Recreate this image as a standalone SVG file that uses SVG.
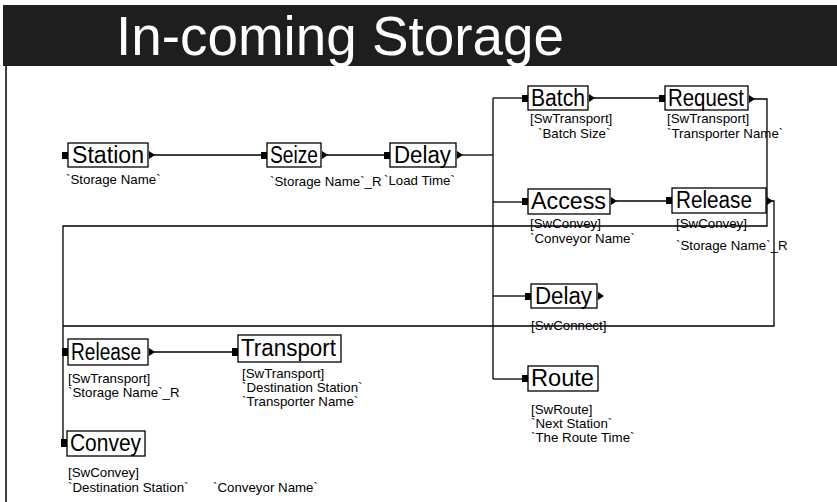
<svg xmlns="http://www.w3.org/2000/svg" width="837" height="502" viewBox="0 0 837 502">
<style>
.box{fill:#fff;stroke:#000;stroke-width:1.3}
.nt{font-family:"Liberation Sans",Arial,sans-serif;font-size:23px;fill:#000}
.lb{font-family:"Liberation Sans",Arial,sans-serif;font-size:13.3px;fill:#000}
.cn{fill:none;stroke:#000;stroke-width:1.3}
.in{fill:#000}
.out{fill:#000}
</style>
<rect width="837" height="502" fill="#fff"/>
<g id="title">
<rect x="3" y="5" width="834" height="61" fill="#1e1e1e"/>
<text x="116" y="55" font-family="'Liberation Sans',Arial,sans-serif" font-size="55" fill="#fff" textLength="448" lengthAdjust="spacingAndGlyphs">In-coming Storage</text>
<line x1="6" y1="66" x2="6" y2="502" stroke="#000" stroke-width="1.5"/>
</g>
<g id="connectors" class="cn">
<path d="M154 155H261"/>
<path d="M327 155H384"/>
<path d="M462 155H493"/>
<path d="M493 98V379"/>
<path d="M493 98H522"/>
<path d="M594 98H659"/>
<path d="M493 202H522"/>
<path d="M616 201H666"/>
<path d="M493 296H525"/>
<path d="M493 379H522"/>
<path d="M754 99H767V226H63V443H62"/>
<path d="M772 201H774V326H63"/>
<path d="M154 352H232"/>
</g>
<g id="station">
<rect class="box" x="68" y="143" width="80" height="24"/>
<rect class="in" x="62" y="152" width="6" height="7"/>
<path class="out" d="M149 151L155 155L149 159Z"/>
<text class="nt" x="72" y="163" textLength="72" lengthAdjust="spacingAndGlyphs">Station</text>
<text class="lb" x="66" y="184">`Storage Name`</text>
</g>
<g id="seize">
<rect class="box" x="267" y="143" width="54" height="24"/>
<rect class="in" x="261" y="152" width="6" height="7"/>
<path class="out" d="M322 151L328 155L322 159Z"/>
<text class="nt" x="270" y="163" textLength="48" lengthAdjust="spacingAndGlyphs">Seize</text>
<text class="lb" x="270" y="186">`Storage Name`_R</text>
</g>
<g id="delay1">
<rect class="box" x="390" y="143" width="66" height="24"/>
<rect class="in" x="384" y="152" width="6" height="7"/>
<path class="out" d="M457 151L463 155L457 159Z"/>
<text class="nt" x="394" y="163" textLength="57" lengthAdjust="spacingAndGlyphs">Delay</text>
<text class="lb" x="384" y="185">`Load Time`</text>
</g>
<g id="batch">
<rect class="box" x="528" y="86" width="60" height="24"/>
<rect class="in" x="522" y="95" width="6" height="7"/>
<path class="out" d="M589 94L595 98L589 102Z"/>
<text class="nt" x="531" y="106" textLength="54" lengthAdjust="spacingAndGlyphs">Batch</text>
<text class="lb" x="530" y="123">[SwTransport]</text>
<text class="lb" x="538" y="138">`Batch Size`</text>
</g>
<g id="request">
<rect class="box" x="665" y="86" width="83" height="24"/>
<rect class="in" x="659" y="95" width="6" height="7"/>
<path class="out" d="M749 95L755 99L749 103Z"/>
<text class="nt" x="668" y="106" textLength="76" lengthAdjust="spacingAndGlyphs">Request</text>
<text class="lb" x="667" y="123">[SwTransport]</text>
<text class="lb" x="667" y="138">`Transporter Name`</text>
</g>
<g id="access">
<rect class="box" x="528" y="189" width="82" height="25"/>
<rect class="in" x="522" y="198" width="6" height="7"/>
<path class="out" d="M611 197L617 201L611 205Z"/>
<text class="nt" x="531" y="209" textLength="75" lengthAdjust="spacingAndGlyphs">Access</text>
<text class="lb" x="530" y="228">[SwConvey]</text>
<text class="lb" x="530" y="243">`Conveyor Name`</text>
</g>
<g id="release-r">
<rect class="box" x="672" y="188" width="94" height="25"/>
<rect class="in" x="666" y="197" width="6" height="7"/>
<path class="out" d="M767 197L773 201L767 205Z"/>
<text class="nt" x="676" y="208" textLength="76" lengthAdjust="spacingAndGlyphs">Release</text>
<text class="lb" x="676" y="228">[SwConvey]</text>
<text class="lb" x="676" y="250">`Storage Name`_R</text>
</g>
<g id="delay2">
<rect class="box" x="531" y="284" width="66" height="24"/>
<rect class="in" x="525" y="293" width="6" height="7"/>
<path class="out" d="M598 292L604 296L598 300Z"/>
<text class="nt" x="535" y="304" textLength="57" lengthAdjust="spacingAndGlyphs">Delay</text>
<text class="lb" x="531" y="330">[SwConnect]</text>
</g>
<g id="route">
<rect class="box" x="528" y="366" width="70" height="25"/>
<rect class="in" x="522" y="375" width="6" height="7"/>
<text class="nt" x="531" y="386" textLength="63" lengthAdjust="spacingAndGlyphs">Route</text>
<text class="lb" x="531" y="414">[SwRoute]</text>
<text class="lb" x="531" y="428">`Next Station`</text>
<text class="lb" x="531" y="442">`The Route Time`</text>
</g>
<g id="release-l">
<rect class="box" x="68" y="339" width="80" height="26"/>
<rect class="in" x="62" y="348" width="6" height="8"/>
<path class="out" d="M149 348L155 352L149 356Z"/>
<text class="nt" x="71" y="360" textLength="70" lengthAdjust="spacingAndGlyphs">Release</text>
<text class="lb" x="68" y="383">[SwTransport]</text>
<text class="lb" x="68" y="397">`Storage Name`_R</text>
</g>
<g id="transport">
<rect class="box" x="238" y="335" width="103" height="27"/>
<rect class="in" x="232" y="348" width="6" height="8"/>
<text class="nt" x="241" y="356" textLength="95" lengthAdjust="spacingAndGlyphs">Transport</text>
<text class="lb" x="242" y="378">[SwTransport]</text>
<text class="lb" x="242" y="392">`Destination Station`</text>
<text class="lb" x="242" y="406">`Transporter Name`</text>
</g>
<g id="convey">
<rect class="box" x="67" y="431" width="78" height="25"/>
<rect class="in" x="61" y="439" width="6" height="8"/>
<text class="nt" x="70" y="451" textLength="71" lengthAdjust="spacingAndGlyphs">Convey</text>
<text class="lb" x="68" y="477">[SwConvey]</text>
<text class="lb" x="68" y="492">`Destination Station`</text>
<text class="lb" x="213" y="492">`Conveyor Name`</text>
</g>
</svg>
